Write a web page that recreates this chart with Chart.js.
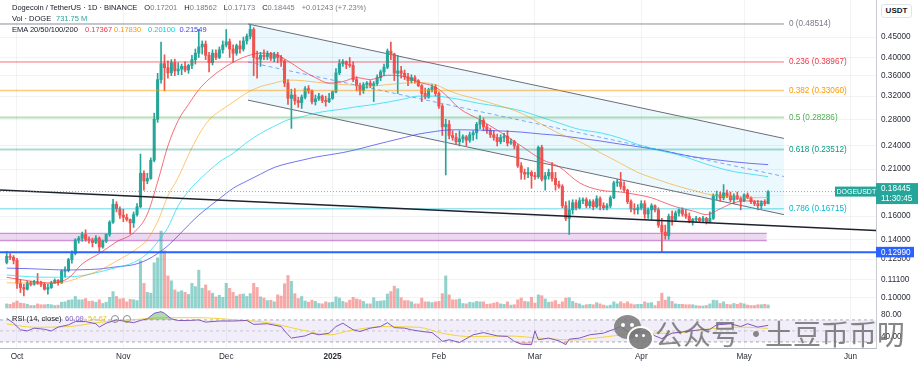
<!DOCTYPE html>
<html><head><meta charset="utf-8">
<script src="https://cdn.jsdelivr.net/npm/chart.js@4.4.1/dist/chart.umd.min.js"></script>
<style>
body{margin:0;background:#fff;}
#wrap{position:relative;width:918px;height:367px;overflow:hidden;font-family:"Liberation Sans",Arial,sans-serif;}
#c{position:absolute;left:0;top:0;}
.t{position:absolute;white-space:nowrap;font-size:7.5px;line-height:10px;color:#787b86;}
.t span.g{margin-left:7px;}
.k{color:#131722;}
.wm{position:absolute;white-space:nowrap;font-family:"Noto Sans CJK SC",sans-serif;font-size:28px;line-height:34px;color:rgba(105,105,105,0.8);}
.dot{position:absolute;border-radius:50%;}
.eye{position:absolute;width:6px;height:6px;border:1px solid #8a8d96;border-radius:50%;}
</style></head><body>
<div id="wrap">
<canvas id="c" width="918" height="367" style="width:918px;height:367px"></canvas>

<div class="t" style="left:12px;top:3px"><span class="k">Dogecoin / TetherUS · 1D · BINANCE</span><span class="g"><span class="k">O</span>0.17201</span><span class="g"><span class="k">H</span>0.18562</span><span class="g"><span class="k">L</span>0.17173</span><span class="g"><span class="k">C</span>0.18445</span><span class="g">+0.01243 (+7.23%)</span></div>
<div class="t k" style="left:12px;top:14px">Vol · DOGE</div>
<div class="t" style="left:56px;top:14px;color:#26a69a">731.75 M</div>
<div class="t k" style="left:12px;top:25px">EMA 20/50/100/200</div>
<div class="t" style="left:85px;top:25px;color:#f23645">0.17367</div>
<div class="t" style="left:114px;top:25px;color:#ff9800">0.17830</div>
<div class="t" style="left:148px;top:25px;color:#00d0e6">0.20100</div>
<div class="t" style="left:179.5px;top:25px;color:#3d3df0">0.21549</div>
<div class="t k" style="left:881px;top:4px;width:29px;height:12px;line-height:12px;text-align:center;font-weight:bold;font-size:8px;border:1px solid #e0e3eb;border-radius:3px;background:#fff">USDT</div>

<div class="t k" style="left:12px;top:314px">RSI (14, close)</div>
<div class="t" style="left:65px;top:314px;color:#7e57c2">60.09</div>
<div class="t" style="left:88px;top:314px;color:#e8c21a">54.67</div>
<div class="eye" style="left:111px;top:315px"></div>
<div class="eye" style="left:123px;top:315px"></div>

<div class="dot" style="left:614px;top:315px;width:27px;height:24px;background:rgba(120,120,120,0.85)"></div>
<div class="dot" style="left:627px;top:326px;width:23px;height:21px;background:rgba(120,120,120,0.9);border:2px solid #fff"></div>
<div class="dot" style="left:621px;top:323px;width:4px;height:4px;background:#fff"></div>
<div class="dot" style="left:630px;top:323px;width:4px;height:4px;background:#fff"></div>
<div class="dot" style="left:635px;top:334px;width:3px;height:3px;background:#fff"></div>
<div class="dot" style="left:642px;top:334px;width:3px;height:3px;background:#fff"></div>
<div class="wm" style="left:655px;top:316px">公众号</div>
<div class="wm" style="left:742px;top:316px">·</div>
<div class="wm" style="left:765px;top:316px">土豆币币叨</div>
</div>
<script>
// ---------- DATA ----------
// first candle = 2024-09-28; day index 0 = 2024-10-01
const firstDayIndex = -3;
const opens = [
 .1225,.1270,.1262,
 .1240,.1085,.1060,.1050,.1090,.1080,.1095,.1085,.1080,.1050,.1060,.1090,.1105,.1090,.1165,.1170,.1245,.1290,.1395,.1410,.1440,.1400,.1395,.1375,.1410,.1340,.1385,.1440,.1545,.1715,.1670,
 .1610,.1590,.1570,.1540,.1615,.1690,.2050,.1960,.1990,.2210,.2800,.3520,.3860,.3770,.3660,.3880,.3700,.3740,.3800,.3720,.3820,.3950,.4100,.4250,.4320,.4050,.3880,.4100,.4000,.4180,
 .4300,.4380,.4200,.4100,.4280,.4200,.4400,.4520,.4700,.4000,.3960,.4050,.4020,.4080,.3980,.4060,.4000,.3920,.3450,.3160,.3220,.3120,.3080,.3180,.3340,.3300,.3100,.3150,.3200,.3120,.3100,
 .3160,.3280,.3660,.3860,.3900,.3840,.3820,.3520,.3400,.3300,.3420,.3450,.3400,.3440,.3560,.3680,.3780,.4150,.4080,.3650,.3700,.3650,.3580,.3500,.3560,.3500,.3400,.3250,.3180,.3320,.3370,
 .3250,.3020,.2680,.2720,.2550,.2520,.2460,.2500,.2530,.2480,.2560,.2590,.2720,.2780,.2680,.2620,.2560,.2520,.2460,.2520,.2540,.2440,.2460,.2400,.2140,.2060,.2040,.2060,
 .2020,.2010,.2380,.1980,.2020,.2060,.1990,.1920,.1900,.1700,.1580,.1660,.1730,.1680,.1750,.1760,.1700,.1740,.1690,.1770,.1700,.1680,.1700,.1780,.1940,.1950,.1900,.1860,.1740,.1670,.1660,
 .1680,.1720,.1620,.1660,.1700,.1660,.1520,.1460,.1430,.1600,.1570,.1630,.1660,.1620,.1600,.1550,.1570,.1580,.1560,.1580,.1550,.1580,.1800,.1810,.1780,.1830,.1800,.1760,.1800,.1770,
 .1750,.1810,.1780,.1740,.1720,.1700,.1730,.17201];
const highs = [
 .1305,.1290,.1275,
 .1255,.1110,.1080,.1100,.1100,.1105,.1150,.1100,.1090,.1080,.1100,.1115,.1110,.1175,.1195,.1255,.1310,.1405,.1425,.1460,.1480,.1420,.1410,.1430,.1420,.1395,.1445,.1560,.1765,.1740,.1690,
 .1665,.1620,.1575,.1640,.1720,.2290,.2080,.2050,.2240,.2900,.3650,.4370,.4060,.3920,.3950,.3960,.3880,.3850,.3900,.3850,.4050,.4200,.4700,.4400,.4400,.4120,.4180,.4180,.4250,.4400,
 .4700,.4450,.4300,.4320,.4400,.4500,.4580,.48514,.4750,.4150,.4120,.4180,.4150,.4120,.4120,.4120,.4050,.3950,.3520,.3330,.3340,.3180,.3220,.3380,.3400,.3320,.3220,.3250,.3220,.3200,.3250,
 .3300,.3750,.3950,.3950,.3920,.4000,.3900,.3580,.3450,.3460,.3480,.3500,.3480,.3620,.3720,.3850,.4200,.4370,.4100,.4050,.3800,.3720,.3650,.3620,.3600,.3520,.3420,.3350,.3350,.3420,.3420,
 .3280,.3050,.2800,.2780,.2620,.2580,.2620,.2560,.2550,.2600,.2620,.2750,.2860,.2820,.2720,.2660,.2620,.2570,.2560,.2580,.2620,.2500,.2480,.2420,.2180,.2100,.2120,.2080,
 .2060,.2400,.2410,.2060,.2100,.2180,.2060,.1960,.1920,.1740,.1750,.1760,.1760,.1780,.1780,.1780,.1760,.1760,.1800,.1790,.1730,.1720,.1800,.1960,.1980,.2060,.1950,.1870,.1760,.1720,.1710,
 .1750,.1750,.1680,.1720,.1710,.1680,.1580,.1520,.1620,.1650,.1650,.1670,.1680,.1660,.1630,.1580,.1600,.1590,.1600,.1590,.1640,.1820,.1850,.1840,.1920,.1860,.1840,.1820,.1840,.1790,
 .1820,.1830,.1790,.1750,.1750,.1750,.1760,.18562];
const lows = [
 .1215,.1245,.1215,
 .1055,.1030,.1010,.1045,.1070,.1075,.1080,.1065,.1045,.1020,.1055,.1085,.1075,.1085,.1125,.1160,.1220,.1280,.1370,.1385,.1385,.1370,.1340,.1365,.1300,.1330,.1375,.1425,.1535,.1640,.1580,
 .1550,.1555,.1445,.1500,.1600,.1680,.1860,.1930,.1980,.2190,.2750,.3450,.3300,.3550,.3600,.3600,.3620,.3620,.3680,.3650,.3750,.3850,.4000,.4080,.3950,.3680,.3830,.3950,.3970,.4100,
 .4250,.4000,.3900,.4050,.4100,.4150,.4320,.4450,.3600,.3550,.3800,.3950,.3950,.3930,.3900,.3880,.3800,.3380,.3050,.2656,.3050,.3000,.2980,.3150,.3250,.3060,.3040,.3120,.3080,.3020,.3080,
 .3140,.3260,.3620,.3800,.3750,.3780,.3480,.3300,.3220,.3250,.3350,.3360,.3100,.3400,.3500,.3600,.3750,.3950,.3500,.3250,.3550,.3520,.3400,.3450,.3450,.3380,.3100,.3150,.3160,.3280,.3200,
 .2980,.2550,.2030,.2500,.2480,.2420,.2400,.2450,.2400,.2450,.2480,.2500,.2650,.2620,.2580,.2520,.2480,.2400,.2430,.2460,.2400,.2420,.2360,.2120,.1980,.1980,.2000,.1880,
 .1980,.1990,.1960,.1860,.1980,.1960,.1860,.1880,.1680,.1560,.1440,.1620,.1660,.1670,.1720,.1680,.1680,.1660,.1680,.1660,.1660,.1660,.1680,.1770,.1900,.1870,.1840,.1720,.1640,.1620,.1620,
 .1660,.1580,.1580,.1570,.1640,.1500,.1300,.1400,.1400,.1520,.1550,.1600,.1600,.1580,.1540,.1520,.1550,.1550,.1550,.1530,.1540,.1570,.1760,.1740,.1760,.1780,.1740,.1720,.1760,.1660,
 .1740,.1770,.1720,.1700,.1660,.1670,.1700,.17173];
const closes = [
 .1270,.1262,.1240,
 .1085,.1060,.1050,.1090,.1080,.1095,.1085,.1080,.1050,.1060,.1090,.1105,.1090,.1165,.1170,.1245,.1290,.1395,.1410,.1440,.1400,.1395,.1375,.1410,.1340,.1385,.1440,.1545,.1715,.1670,.1610,
 .1590,.1570,.1540,.1615,.1690,.2050,.1960,.1990,.2210,.2800,.3520,.3860,.3770,.3660,.3880,.3700,.3740,.3800,.3720,.3820,.3950,.4100,.4250,.4320,.4050,.3880,.4100,.4000,.4180,.4300,
 .4380,.4200,.4100,.4280,.4200,.4400,.4520,.4700,.4000,.3960,.4050,.4020,.4080,.3980,.4060,.4000,.3920,.3450,.3160,.3220,.3120,.3080,.3180,.3340,.3300,.3100,.3150,.3200,.3120,.3100,.3160,
 .3280,.3660,.3860,.3900,.3840,.3820,.3520,.3400,.3300,.3420,.3450,.3400,.3440,.3560,.3680,.3780,.4150,.4080,.3650,.3700,.3650,.3580,.3500,.3560,.3500,.3400,.3250,.3180,.3320,.3370,.3250,
 .3020,.2680,.2720,.2550,.2520,.2460,.2500,.2530,.2480,.2560,.2590,.2720,.2780,.2680,.2620,.2560,.2520,.2460,.2520,.2540,.2440,.2460,.2400,.2140,.2060,.2040,.2060,.2020,
 .2010,.2380,.1980,.2020,.2060,.1990,.1920,.1900,.1700,.1580,.1660,.1730,.1680,.1750,.1760,.1700,.1740,.1690,.1770,.1700,.1680,.1700,.1780,.1940,.1950,.1900,.1860,.1740,.1670,.1660,.1680,
 .1720,.1620,.1660,.1700,.1660,.1520,.1460,.1430,.1600,.1570,.1630,.1660,.1620,.1600,.1550,.1570,.1580,.1560,.1580,.1550,.1580,.1800,.1810,.1780,.1830,.1800,.1760,.1800,.1770,.1750,
 .1810,.1780,.1740,.1720,.1700,.1730,.1720,.18445];
// volume in millions of DOGE
const volumes = [
 1000,900,1300,
 1700,1200,1100,900,600,600,1000,800,800,900,800,600,700,1400,1500,1900,2000,2800,2000,2000,2300,1600,1700,1400,2000,1100,1400,2600,4000,2800,2200,
 2300,1500,2100,2000,1800,11500,6000,3800,3600,11000,12200,18700,13900,7800,6600,4400,3900,4200,3800,3300,6000,5200,9200,4800,5600,4200,3600,2700,3100,2600,
 6000,4800,3800,2900,3300,3400,2800,3500,6000,5000,2700,2400,1800,1900,1500,3200,2900,5900,7900,6500,3500,2300,2800,1700,1400,1900,1600,1100,1000,1500,1300,
 1400,2700,2400,1600,1300,1900,2600,2200,2000,1600,1000,1000,2500,1600,1700,1800,3400,4000,5300,4700,2500,1800,1800,1500,1000,1000,2400,1500,1500,1300,1500,
 1600,3500,7800,3200,2000,2000,2200,1100,1000,1400,1300,1600,1500,1500,900,1000,1200,1400,1000,900,1500,700,800,2000,2400,1600,1500,2600,
 1200,3200,3000,2200,1400,1500,1800,900,1500,2400,2500,1600,1200,1000,600,800,900,800,1300,1000,700,500,700,1500,1000,1500,1100,1500,1000,800,900,
 900,1500,1200,1300,600,1600,3600,1900,2700,1600,1000,900,900,800,800,800,600,500,500,600,1000,1900,1800,1100,1500,900,800,1100,900,1200,
 1000,700,600,600,800,800,900,731.75];

// EMA curves at sample days
const emaDays = [-3,4,10,15,19,24,29,34,38,41,44,47,50,53,56,59,63,67,71,75,79,83,87,91,95,99,103,108,113,117,122,125,129,135,140,147,153,158,164,170,176,181,185,188,192,197,201,205,209,214,219];
const ema20 = [.1125,.1100,.1088,.1120,.1215,.1290,.1380,.1455,.1620,.1950,.2400,.2780,.3050,.3320,.3530,.3700,.3890,.4030,.4100,.4080,.3920,.3720,.3560,.3450,.3480,.3560,.3520,.3610,.3580,.3470,.3370,.3220,.2980,.2790,.2630,.2400,.2220,.2130,.1940,.1860,.1840,.1810,.1780,.1740,.1690,.1650,.1615,.1670,.1730,.1748,.17367];
const ema50 = [.1090,.1088,.1088,.1100,.1130,.1170,.1235,.1310,.1400,.1550,.1800,.2000,.2280,.2560,.2790,.2930,.3090,.3260,.3380,.3450,.3510,.3500,.3470,.3440,.3420,.3410,.3390,.3420,.3450,.3460,.3420,.3330,.3230,.3130,.3040,.2900,.2720,.2580,.2460,.2310,.2170,.2060,.2000,.1960,.1910,.1860,.1820,.1800,.1785,.1780,.1783];
const ema100 = [.1140,.1128,.1125,.1128,.1135,.1160,.1190,.1225,.1290,.1380,.1500,.1700,.1850,.1970,.2080,.2190,.2300,.2450,.2580,.2690,.2790,.2840,.2900,.2940,.2970,.3010,.3040,.3090,.3150,.3200,.3200,.3180,.3140,.3065,.3020,.2940,.2830,.2740,.2640,.2590,.2510,.2420,.2370,.2330,.2290,.2220,.2160,.2110,.2070,.2040,.2010];
const ema200 = [.1186,.1182,.1176,.1173,.1175,.1180,.1195,.1210,.1245,.1290,.1350,.1430,.1520,.1610,.1690,.1770,.1880,.1960,.2040,.2120,.2170,.2210,.2250,.2280,.2310,.2350,.2400,.2460,.2520,.2570,.2610,.2630,.2635,.2630,.2620,.2600,.2570,.2550,.2510,.2470,.2425,.2390,.2360,.2340,.2300,.2256,.2230,.2210,.2190,.2170,.21549];

const rsiDays = [-3,-1,1,3,5,8,10,12,15,17,20,23,24,26,28,29,32,34,36,38,40,42,43,45,47,50,53,55,59,63,67,69,73,77,79,80,84,86,88,91,93,95,98,100,103,106,108,110,113,115,118,121,123,124,126,129,133,136,140,143,145,147,150,151,152,155,158,160,161,164,167,171,174,176,178,180,184,186,188,191,195,199,202,204,208,211,213,216,219];
const rsiValues = [73,64,52,50,55,53,50,57,61,67,67,63,57,64,68,70,67,65,69,72,82,85,82,72,69,69,70,66,68,68,69,62,63,58,43,37,41,46,43,46,58,64,52,49,55,58,65,56,55,52,49,47,37,31,34,29,43,47,41,40,31,26,25,50,34,37,32,25,35,37,43,46,53,58,49,46,49,41,36,46,49,52,53,61,63,58,63,57,60.09];
const rsiMaDays = [-3,5,15,24,34,44,53,63,73,83,91,97,107,117,124,129,133,143,153,162,172,182,191,201,211,219];
const rsiMaValues = [62.7,56.7,57.8,65.5,70.5,74,74,70.5,65.1,51.8,42.7,50.5,57.8,56.7,45.8,40.9,39.6,40.9,36.7,33.6,39.6,45.8,45.8,53.1,57,54.67];

// axis ticks
const monthTicks = [0,31,61,92,123,151,182,212,243];
const monthLabels = ['Oct','Nov','Dec','2025','Feb','Mar','Apr','May','Jun'];
const priceTicks = [0.45,0.40,0.36,0.32,0.28,0.24,0.21,0.18,0.16,0.14,0.125,0.111,0.10];
const rsiTicks = [80,40];

// drawings
const fibLevels = ['0','0.236','0.382','0.5','0.618','0.786'];
const fibPrices = [0.48514,0.38967,0.33060,0.28286,0.23512,0.16715];
const lastPrice = 0.18445;
const supportPrice = 0.12990;
const zonePrices = [0.1450,0.1389];
const channelDays = [67.35,223.6];
const channelUpper = [0.48514,0.2507];
const channelMid = [0.3896,0.2012];
const channelLower = [0.3127,0.1615];
const trendDays = [-4.956,250.44];
const trendPrices = [0.18615,0.14735];

// ---------- CHART ----------
const N = closes.length;
if ([opens,highs,lows,volumes].some(a=>a.length!==N)) throw new Error('length mismatch');
const X0 = -4.956, X1 = 250.44, FIB_END = 223.6, ZONE_END = 218.6;
const P_MIN = 0.093138, P_MAX = 0.55720;
const VOL_MIN = -9720, VOL_MAX = 74844;
const G='#26a69a', R='#ef5350';
const day = i => i + firstDayIndex;
const isUp = i => closes[i] >= opens[i];
const pts = (xs, ys) => xs.map((x,i)=>({x, y: ys[i]}));
const hl = (v, a=X0, b=X1) => [{x:a,y:v},{x:b,y:v}];

const ds = [];
function add(d){ d.order = 1000 - ds.length; ds.push(d); return ds.length-1; }
const L = (o) => Object.assign({type:'line', pointRadius:0, borderWidth:1, tension:0, fill:false, yAxisID:'y'}, o);

// channel
add(L({data: pts(channelDays, channelUpper), borderColor:'#6a6d78', fill:{target:2}, backgroundColor:'rgba(3,169,244,0.08)'}));
add(L({data: pts(channelDays, channelMid), borderColor:'rgba(41,98,255,0.55)', borderDash:[4,3]}));
add(L({data: pts(channelDays, channelLower), borderColor:'#6a6d78'}));
// purple zone
const zTop = add(L({data: hl(zonePrices[0], X0, ZONE_END), borderColor:'rgba(156,39,176,0.55)'}));
add(L({data: hl(zonePrices[1], X0, ZONE_END), borderColor:'rgba(156,39,176,0.55)'}));
ds[zTop].fill = {target: zTop+1}; ds[zTop].backgroundColor = 'rgba(156,39,176,0.18)';
// volume
add({type:'bar', yAxisID:'yv', grouped:false, barThickness:2.4, borderWidth:0,
  data: volumes.map((v,i)=>({x:day(i), y:v})),
  backgroundColor: volumes.map((v,i)=> isUp(i) ? 'rgba(38,166,154,0.5)' : 'rgba(239,83,80,0.5)')});
// candles
add({type:'bar', yAxisID:'y', grouped:false, barThickness:1, borderWidth:0,
  data: closes.map((c,i)=>({x:day(i), y:[lows[i], highs[i]]})),
  backgroundColor: closes.map((c,i)=> isUp(i)?G:R)});
add({type:'bar', yAxisID:'y', grouped:false, barThickness:2.4, borderWidth:0, minBarLength:1,
  data: closes.map((c,i)=>({x:day(i), y:[Math.min(opens[i],c), Math.max(opens[i],c)]})),
  backgroundColor: closes.map((c,i)=> isUp(i)?G:R)});
// EMAs
const emaStyle = {cubicInterpolationMode:'monotone'};
add(L(Object.assign({data: pts(emaDays, ema200), borderColor:'rgba(70,70,240,0.75)'}, emaStyle)));
add(L(Object.assign({data: pts(emaDays, ema100), borderColor:'rgba(0,215,240,0.65)'}, emaStyle)));
add(L(Object.assign({data: pts(emaDays, ema50), borderColor:'rgba(255,152,0,0.55)'}, emaStyle)));
add(L(Object.assign({data: pts(emaDays, ema20), borderColor:'rgba(242,54,69,0.72)'}, emaStyle)));
// fib lines
const fibLineColors = ['rgba(120,123,134,0.85)','rgba(242,54,69,0.7)','rgba(255,152,0,0.5)','rgba(76,175,80,0.4)','rgba(8,153,129,0.35)','rgba(0,188,212,0.4)'];
const fibWidths = [1,1,1.5,2,2,1.5];
fibPrices.forEach((p,i)=> add(L({data: hl(p, X0, FIB_END), borderColor: fibLineColors[i], borderWidth: fibWidths[i]})));
// trend / support / last price
add(L({data: pts(trendDays, trendPrices), borderColor:'#1e222d', borderWidth:1.5}));
add(L({data: hl(supportPrice), borderColor:'#2962ff', borderWidth:2}));
add(L({data: hl(lastPrice), borderColor:'rgba(38,166,154,0.7)', borderDash:[1,2]}));
// RSI pane
const b70 = add(L({yAxisID:'yr', data: hl(70), borderColor:'rgba(120,123,134,0.6)', borderDash:[3,3]}));
const b30 = add(L({yAxisID:'yr', data: hl(30), borderColor:'rgba(120,123,134,0.6)', borderDash:[3,3]}));
ds[b70].fill = {target: b30}; ds[b70].backgroundColor = 'rgba(126,87,194,0.1)';
add(L({yAxisID:'yr', data: hl(50), borderColor:'rgba(120,123,134,0.35)', borderDash:[3,3]}));
add(L({yAxisID:'yr', data: pts(rsiMaDays, rsiMaValues), borderColor:'#f2d43a', cubicInterpolationMode:'monotone'}));
add(L({yAxisID:'yr', data: pts(rsiDays, rsiValues), borderWidth:0, fill:{target:{value:30}, above:'rgba(0,0,0,0)', below:'rgba(242,54,69,0.3)'}}));
add(L({yAxisID:'yr', data: pts(rsiDays, rsiValues), borderColor:'#7e57c2', fill:{target:{value:70}, above:'rgba(76,175,80,0.45)', below:'rgba(0,0,0,0)'}}));

const fibTextColors = ['#787b86','#f23645','#ff9800','#4caf50','#089981','#00bcd4'];
const labelPlugin = {
  id:'tvLabels',
  afterDraw(chart){
    const {ctx, scales:{x, y}} = chart;
    const right = chart.chartArea.right;
    ctx.save();
    ctx.font = '8.2px "Liberation Sans"';
    ctx.textBaseline = 'middle'; ctx.textAlign = 'left';
    const lx = x.getPixelForValue(FIB_END) + 5;
    fibLevels.forEach((lv,i)=>{
      ctx.fillStyle = fibTextColors[i];
      ctx.fillText(lv + ' (' + fibPrices[i].toFixed(5) + ')', lx, y.getPixelForValue(fibPrices[i]));
    });
    const py = y.getPixelForValue(lastPrice);
    ctx.fillStyle = G;
    ctx.fillRect(right-41, py-5, 41, 10);
    ctx.fillRect(right, py-8.5, 918-right, 21);
    ctx.fillStyle = '#fff';
    ctx.font = '7px "Liberation Sans"';
    ctx.fillText('DOGEUSDT', right-39.5, py+0.5);
    ctx.font = '8.2px "Liberation Sans"';
    ctx.fillText(lastPrice.toFixed(5), right+5, py-2.5);
    ctx.fillText('11:30:45', right+5, py+7.5);
    const sy = y.getPixelForValue(supportPrice);
    ctx.fillStyle = '#2962ff';
    ctx.fillRect(right, sy-5.5, 38, 10.5);
    ctx.fillStyle = '#fff';
    ctx.fillText(supportPrice.toFixed(5), right+5, sy);
    ctx.restore();
  }
};

const noPad = (s)=>{ s.paddingTop = 0; s.paddingBottom = 0; s.paddingLeft = 0; s.paddingRight = 0; };
const axisFont = {family:'Liberation Sans', size:8.2};
new Chart(document.getElementById('c').getContext('2d'), {
  type:'line',
  data:{datasets: ds},
  options:{
    responsive:false, animation:false, devicePixelRatio:1, events:[],
    layout:{padding:0},
    plugins:{legend:{display:false}, tooltip:{enabled:false}},
    scales:{
      x:{type:'linear', min:X0, max:X1, offset:false, position:'bottom',
        afterBuildTicks:(s)=>{ s.ticks = monthTicks.map(v=>({value:v})); },
        afterFit:(s)=>{ s.height = 19; noPad(s); },
        grid:{color:'rgba(42,46,57,0.06)', drawTicks:false, offset:false},
        border:{display:true, color:'#b8bbc3'},
        ticks:{autoSkip:false, maxRotation:0, padding:4, color:'#2a2e39',
          font:(c)=>({family:'Liberation Sans', size:8.2, weight:(c.tick && c.tick.value===92)?'bold':'normal'}),
          callback:(v,i)=>monthLabels[i]}},
      y:{type:'logarithmic', position:'right', stack:'pane', stackWeight:310, min:P_MIN, max:P_MAX, beginAtZero:false,
        afterBuildTicks:(s)=>{ s.ticks = priceTicks.map(v=>({value:v})); },
        afterFit:(s)=>{ s.width = 42; noPad(s); },
        grid:{color:'rgba(42,46,57,0.06)', drawTicks:false},
        border:{display:true, color:'#c9ccd3'},
        ticks:{autoSkip:false, padding:5, color:'#2a2e39', font:axisFont, callback:(v)=>Number(v).toFixed(5)}},
      yr:{type:'linear', position:'right', stack:'pane', stackWeight:38, min:19, max:88, beginAtZero:false,
        afterBuildTicks:(s)=>{ s.ticks = rsiTicks.map(v=>({value:v})); },
        afterFit:(s)=>{ s.width = 42; noPad(s); },
        grid:{display:false, drawTicks:false},
        border:{display:true, color:'#c9ccd3'},
        ticks:{autoSkip:false, padding:5, color:'#2a2e39', font:axisFont, callback:(v)=>Number(v).toFixed(2)}},
      yv:{type:'linear', display:false, min:VOL_MIN, max:VOL_MAX, beginAtZero:false, afterFit:noPad}
    }
  },
  plugins:[labelPlugin]
});
</script>
</body></html>
